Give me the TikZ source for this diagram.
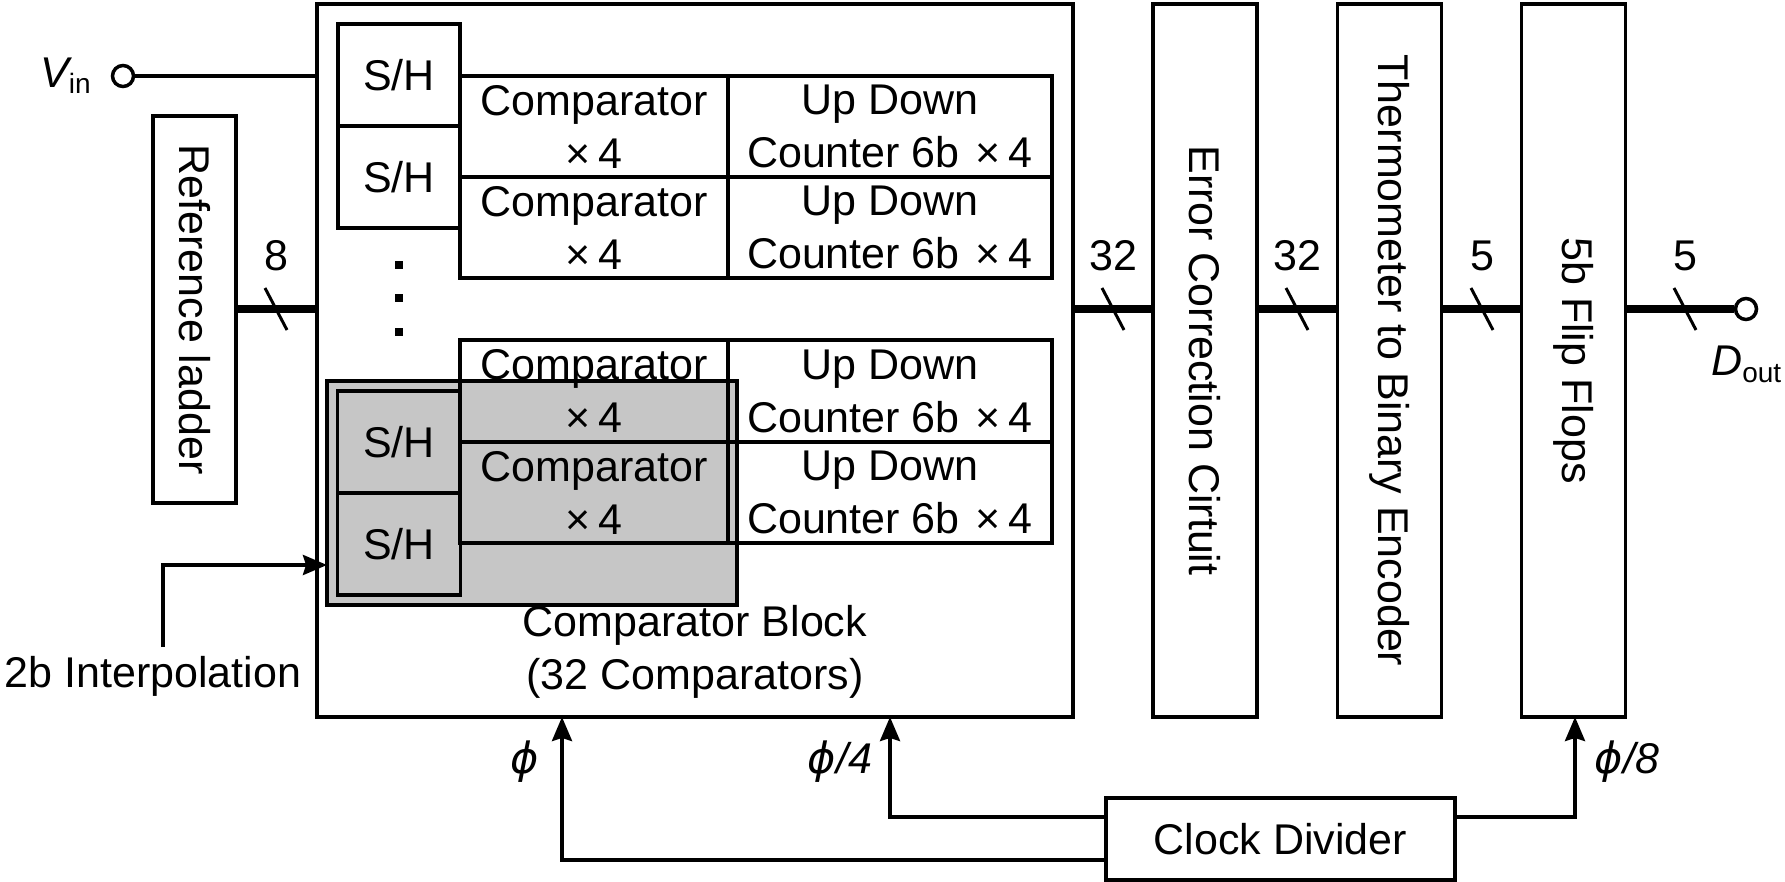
\documentclass[tikz,border=0pt]{standalone}
\usepackage{fontspec}
\setmainfont{Liberation Sans}
\newfontfamily\dvfont{DejaVu Sans}
\usetikzlibrary{arrows.meta}
\newcommand\myfs{\fontsize{43}{53}\selectfont}
\newcommand\subfs{\fontsize{28}{30}\selectfont}
\newcommand\tfour{×\kern8pt 4}
\begin{document}
\begin{tikzpicture}[x=1pt,y=-1pt,
  box/.style={draw, line width=3.5pt, inner sep=0pt, outer sep=0pt, align=center, font=\myfs},
  txt/.style={inner sep=0pt, font=\myfs, align=center},
  bus/.style={line width=8pt},
  wire/.style={line width=3.5pt},
  arr/.style={line width=3.5pt, -{Stealth[length=24pt,width=20pt,inset=3pt]}},
  slashmark/.style={line width=3pt},
  term/.style={circle, draw, line width=3.5pt, minimum size=21pt, inner sep=0pt, fill=white},
  shadebox/.style={draw, line width=4.5pt, fill=gray!45, inner sep=0pt, outer sep=0pt}
]
\useasboundingbox (0,0) rectangle (1785,882);

% main blocks
\node[box, minimum width=756pt, minimum height=713pt] (cb) at (695,360.5) {};
\node[box, minimum width=104pt, minimum height=713pt] (ec) at (1205,360.5) {};
\node[box, minimum width=104pt, minimum height=713pt] (th) at (1389.5,360.5) {};
\node[box, minimum width=104pt, minimum height=713pt] (ff) at (1573.5,360.5) {};
\node[box, minimum width=83pt, minimum height=387pt] (rl) at (194.5,309.5) {};
\node[txt, rotate=-90] (rlt) at (rl) {Reference ladder};
\node[txt, rotate=-90] (ect) at (ec) {Error Correction Cirtuit};
\node[txt, rotate=-90] (tht) at (th) {Thermometer to Binary Encoder};
\node[txt, rotate=-90] (fft) at (ff) {5b Flip Flops};

% upper S/H and comparator rows
\node[box, minimum width=122pt, minimum height=102pt] (sh1) at (399,75) {S/H};
\node[box, minimum width=122pt, minimum height=102pt] (sh2) at (399,177) {S/H};
\node[box, minimum width=268pt, minimum height=101pt] (c1) at (594,126.5) {Comparator\\\tfour};
\node[box, minimum width=324pt, minimum height=101pt] (u1) at (890,126.5) {Up Down\\Counter 6b\hspace{16pt}\tfour};
\node[box, minimum width=268pt, minimum height=101pt] (c2) at (594,227.5) {Comparator\\\tfour};
\node[box, minimum width=324pt, minimum height=101pt] (u2) at (890,227.5) {Up Down\\Counter 6b\hspace{16pt}\tfour};

% dots
\fill (395,261) rectangle (403,269);
\fill (395,294) rectangle (403,302);
\fill (395,328) rectangle (403,336);

% shaded group
\node[shadebox, minimum width=410pt, minimum height=224pt] (shd) at (532,493) {};
\node[box, minimum width=123pt, minimum height=102pt] (sh3) at (399,442) {S/H};
\node[box, minimum width=123pt, minimum height=102pt] (sh4) at (399,544) {S/H};
\node[box, minimum width=268pt, minimum height=102pt] (c3) at (594,391) {Comparator\\\tfour};
\node[box, minimum width=324pt, minimum height=102pt] (u3) at (890,391) {Up Down\\Counter 6b\hspace{16pt}\tfour};
\node[box, minimum width=268pt, minimum height=101pt] (c4) at (594,492.5) {Comparator\\\tfour};
\node[box, minimum width=324pt, minimum height=101pt] (u4) at (890,492.5) {Up Down\\Counter 6b\hspace{16pt}\tfour};

\node[txt] (cbl) at (695,652) {Comparator Block\\(32 Comparators)};

% Vin
\node[term] (vin) at (123,76) {};
\node[txt, anchor=base west] (vinl) at (40,88) {\itshape V\raisebox{-6pt}{\subfs\upshape in}};
\draw[wire] (vin) -- (vin -| cb.west);

% buses
\draw[bus] (rl.east) -- (rl.east -| cb.west);
\draw[bus] (cb.east |- rl.east) -- (ec.west |- rl.east);
\draw[bus] (ec.east |- rl.east) -- (th.west |- rl.east);
\draw[bus] (th.east |- rl.east) -- (ff.west |- rl.east);
\node[term] (dout) at (1746,309) {};
\draw[bus] (ff.east |- dout) -- (dout.west);
\node[txt, anchor=base west] (doutl) at (1711,376) {\itshape D\raisebox{-6pt}{\subfs\upshape out}};

\node[txt, anchor=base] (l8) at (276,271) {8};
\node[txt, anchor=base] (l32a) at (1113,271) {32};
\node[txt, anchor=base] (l32b) at (1297,271) {32};
\node[txt, anchor=base] (l5a) at (1482,271) {5};
\node[txt, anchor=base] (l5b) at (1685,271) {5};
\draw[slashmark] (265,288) -- (287,330);
\draw[slashmark] (1102,288) -- (1124,330);
\draw[slashmark] (1286,288) -- (1308,330);
\draw[slashmark] (1471,288) -- (1493,330);
\draw[slashmark] (1674,288) -- (1696,330);

% interpolation
\node[txt, anchor=base] (interp) at (153,687) {2b Interpolation};
\coordinate (ib) at (163,647);
\draw[arr] (ib) |- ([yshift=-72pt]shd.west);

% clock
\node[box, minimum width=349pt, minimum height=82pt] (cd) at (1280.5,839) {Clock Divider};
\coordinate (p1) at (562,717);
\coordinate (p4) at (890,717);
\coordinate (p8) at (1575,717);
\draw[arr] ([yshift=-21pt]cd.west) -| (p1);
\draw[arr] ([yshift=22pt]cd.west) -| (p4);
\draw[arr] ([yshift=22pt]cd.east) -| (p8);
\node[txt, anchor=base] (phi1) at (525,773) {{\dvfont\itshape ϕ}};
\node[txt, anchor=base] (phi4) at (840,773) {{\dvfont\itshape ϕ}{\itshape /4}};
\node[txt, anchor=base] (phi8) at (1627,773) {{\dvfont\itshape ϕ}{\itshape /8}};
\end{tikzpicture}
\end{document}
